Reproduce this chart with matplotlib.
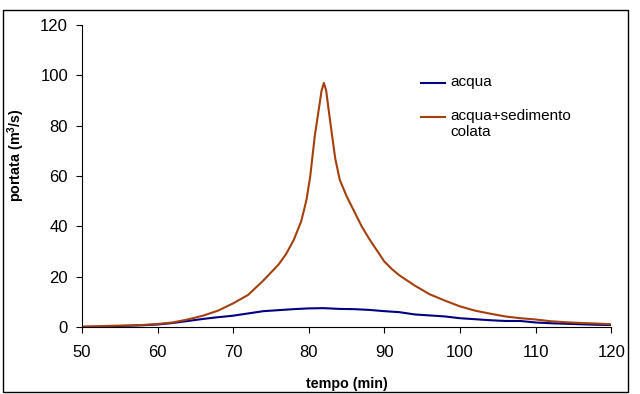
import matplotlib
matplotlib.use('Agg')
import matplotlib.pyplot as plt
from matplotlib.patches import Rectangle
from matplotlib.lines import Line2D

plt.rcParams['font.family'] = ['Liberation Sans', 'DejaVu Sans']
plt.rcParams['mathtext.fontset'] = 'custom'
plt.rcParams['mathtext.rm'] = 'Liberation Sans:bold'
plt.rcParams['mathtext.bf'] = 'Liberation Sans:bold'

# acqua (solo acqua)
t_acqua = [50, 52, 54, 56, 58, 60, 62, 64, 66, 68, 70, 72, 74, 76, 78, 80, 82, 84,
           86, 88, 90, 92, 94, 96, 98, 100, 102, 104, 106, 108, 110, 112, 114, 116, 118, 120]
q_acqua = [0.0, 0.1, 0.3, 0.5, 0.7, 1.0, 1.6, 2.4, 3.2, 3.9, 4.5, 5.4, 6.3, 6.7, 7.1, 7.4, 7.5, 7.2,
           7.1, 6.8, 6.3, 5.9, 5.0, 4.6, 4.2, 3.5, 3.1, 2.7, 2.4, 2.4, 1.8, 1.5, 1.3, 1.1, 0.9, 0.8]

# acqua + sedimento (colata)
t_colata = [50, 52, 54, 56, 58, 60, 62, 64, 66, 68, 70, 72, 74, 76, 77, 78, 79, 79.7, 80.2, 80.8,
            81.4, 81.7, 82.0, 82.3, 82.6, 83.0, 83.5, 84.1, 85, 86, 87, 88, 89, 90, 91, 92, 94, 96, 98, 100,
            102, 104, 106, 108, 110, 112, 114, 116, 118, 120]
q_colata = [0.2, 0.3, 0.5, 0.6, 0.8, 1.2, 1.8, 3.0, 4.5, 6.5, 9.4, 12.8, 18.5, 24.8, 29.0, 34.5, 42.0, 50.5, 60.0, 76.0,
            88.0, 94.0, 97.0, 94.0, 87.0, 78.0, 67.0, 58.5, 52.0, 46.0, 40.0, 35.0, 30.5, 26.0, 23.0, 20.5, 16.5, 13.0, 10.5, 8.2,
            6.5, 5.3, 4.2, 3.5, 3.0, 2.3, 1.9, 1.6, 1.4, 1.1]

x_ticks = [50, 60, 70, 80, 90, 100, 110, 120]
y_ticks = [0, 20, 40, 60, 80, 100, 120]

c_acqua = '#000080'
c_colata = '#A3400E'

fig = plt.figure(figsize=(6.4, 3.94), dpi=100)
ax = fig.add_axes([0.128, 0.170, 0.827, 0.7665])

ax.plot(t_acqua, q_acqua, color=c_acqua, lw=1.5)
ax.plot(t_colata, q_colata, color=c_colata, lw=1.5)

ax.set_xlim(50, 120)
ax.set_ylim(0, 120)
ax.set_xticks(x_ticks)
ax.set_yticks(y_ticks)
ax.spines['top'].set_visible(False)
ax.spines['right'].set_visible(False)
ax.tick_params(direction='out', length=4, width=0.8, labelsize=12)
ax.tick_params(axis='x', pad=9)
ax.tick_params(axis='y', pad=6)

ax.set_xlabel('tempo (min)', fontsize=10.3, fontweight='bold', va='top')
ax.set_ylabel(r'portata (m$^{3}$/s)', fontsize=10.3, fontweight='bold')
ax.xaxis.set_label_coords(0.5, -0.165)
ax.yaxis.set_label_coords(-0.104, 0.57)

# legenda senza cornice
legend_items = [('acqua', c_acqua, 0.808), ('acqua+sedimento\ncolata', c_colata, 0.695)]
for label, col, yy in legend_items:
    ax.add_line(Line2D([0.640, 0.686], [yy, yy], transform=ax.transAxes, color=col, lw=1.5))
    ax.text(0.696, yy + 0.028, label, transform=ax.transAxes, fontsize=11, va='top',
            ha='left', linespacing=1.25)

# cornice esterna
fig.patches.append(Rectangle((0.004, 0.005), 0.977, 0.970, transform=fig.transFigure,
                             fill=False, edgecolor='black', lw=1.0))

fig.savefig('out.png', dpi=100)
